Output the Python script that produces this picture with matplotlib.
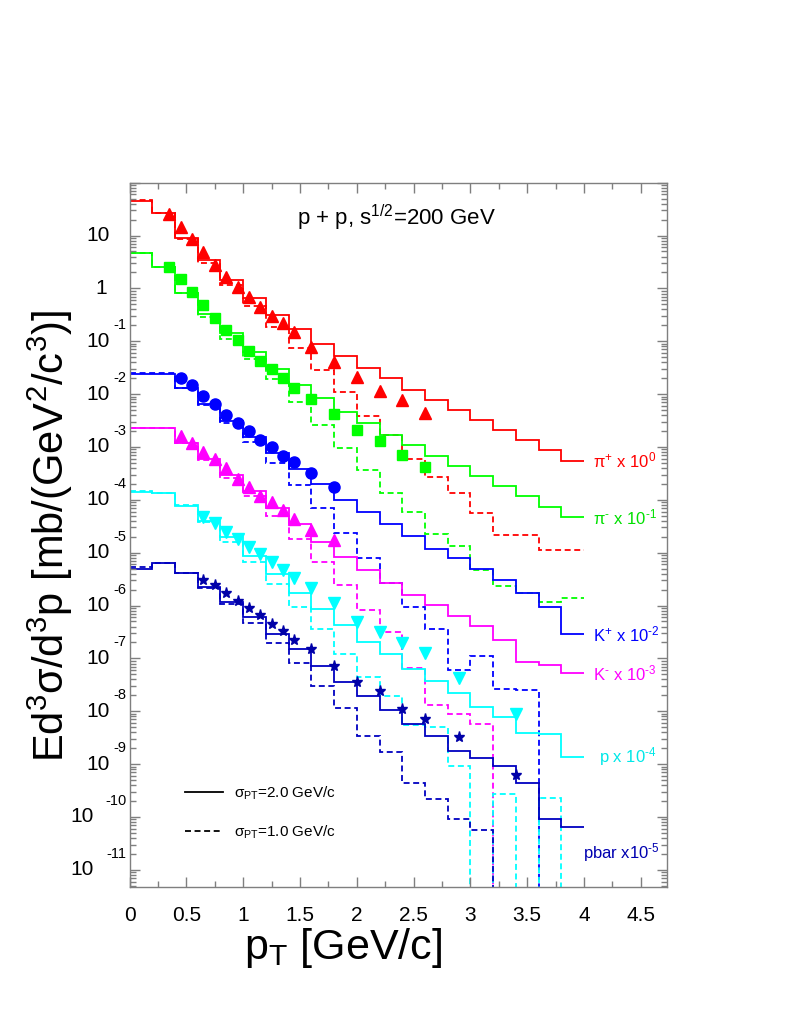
import matplotlib.pyplot as plt
import matplotlib.ticker as mticker
from matplotlib.lines import Line2D
import numpy as np

plt.rcParams['font.family'] = ['Liberation Sans', 'DejaVu Sans']
plt.rcParams['mathtext.fontset'] = 'custom'
plt.rcParams['mathtext.rm'] = 'Liberation Sans'
plt.rcParams['mathtext.it'] = 'Liberation Sans:italic'
plt.rcParams['mathtext.bf'] = 'Liberation Sans:bold'

# histogram bins in pT (GeV/c)
pt_edges = [0.0, 0.2, 0.4, 0.6, 0.8, 1.0, 1.2, 1.4, 1.6, 1.8, 2.0,
            2.2, 2.4, 2.6, 2.8, 3.0, 3.2, 3.4, 3.6, 3.8, 4.0]

# model, sigma_PT = 2.0 GeV/c (solid) and 1.0 GeV/c (dashed), already scaled
pip_s2 = [45.9, 26.5, 8.93, 3.47, 1.45, 0.671, 0.316, 0.169, 0.0893, 0.0536,
          0.0318, 0.0200, 0.0120, 0.00778, 0.00504, 0.00326, 0.00211, 0.00136, 8.81e-4, 5.53e-4]
pip_s1 = [47.3, 26.9, 8.67, 3.01, 1.17, 0.468, 0.190, 0.0740, 0.0288, 0.0109,
          0.00393, 0.00169, 5.87e-4, 2.75e-4, 1.34e-4, 5.58e-5, 2.17e-5, 2.17e-5, 1.13e-5, 1.13e-5]
pim_s2 = [4.65, 2.52, 0.834, 0.330, 0.142, 0.0638, 0.0301, 0.0150, 0.00838, 0.00468,
          0.00290, 0.00169, 0.00110, 6.87e-4, 4.39e-4, 2.84e-4, 1.84e-4, 1.19e-4, 7.45e-5, 4.70e-5]
pim_s1 = [4.71, 2.52, 0.813, 0.293, 0.110, 0.0458, 0.0192, 0.00723, 0.00262, 9.75e-4,
          3.69e-4, 1.37e-4, 6.0e-5, 2.27e-5, 1.36e-5, 4.73e-6, 2.36e-6, 1.76e-6, 1.19e-6, 1.38e-6]
kp_s2 = [0.0242, 0.0242, 0.0130, 0.00655, 0.00316, 0.00157, 7.83e-4, 3.80e-4, 1.98e-4, 9.98e-5,
         6.0e-5, 3.46e-5, 2.08e-5, 1.18e-5, 8.07e-6, 4.93e-6, 3.05e-6, 1.71e-6, 9.55e-7, 2.91e-7]
kp_s1 = [0.0256, 0.0256, 0.0130, 0.00627, 0.00290, 0.00126, 4.93e-4, 1.92e-4, 6.95e-5, 2.40e-5,
         8.07e-6, 2.65e-6, 9.55e-7, 3.57e-7, 6.05e-8, 1.13e-7, 2.65e-8, 2.54e-8, 0, 0]
km_s2 = [0.00227, 0.00227, 0.00121, 5.96e-4, 2.96e-4, 1.48e-4, 6.95e-5, 3.46e-5, 1.62e-5, 8.43e-6,
         4.73e-6, 2.72e-6, 1.59e-6, 1.03e-6, 6.37e-7, 4.16e-7, 2.24e-7, 8.47e-8, 7.53e-8, 5.25e-8]
km_s1 = [0.00227, 0.00227, 0.00118, 5.70e-4, 2.64e-4, 1.19e-4, 4.97e-5, 1.82e-5, 6.79e-6, 2.46e-6,
         8.28e-7, 3.13e-7, 6.70e-8, 1.32e-8, 8.91e-9, 5.77e-9, 0, 0, 0, 0]
p_s2 = [1.43e-4, 1.34e-4, 7.78e-5, 4.05e-5, 2.02e-5, 8.71e-6, 3.97e-6, 1.76e-6, 8.53e-7, 4.31e-7,
        2.03e-7, 1.20e-7, 6.25e-8, 3.75e-8, 2.20e-8, 1.22e-8, 7.71e-9, 3.94e-9, 3.72e-9, 1.35e-9]
p_s1 = [1.50e-4, 1.36e-4, 8.02e-5, 3.87e-5, 1.62e-5, 6.79e-6, 2.57e-6, 9.31e-7, 3.57e-7, 1.20e-7,
        4.41e-8, 1.95e-8, 5.52e-9, 5.13e-9, 9.06e-10, 0, 2.73e-10, 0, 2.32e-10, 0]
pbar_s2 = [4.93e-6, 6.32e-6, 4.09e-6, 2.22e-6, 1.19e-6, 6.01e-7, 2.91e-7, 1.49e-7, 7.21e-8, 3.64e-8,
           1.95e-8, 1.06e-8, 5.77e-9, 3.46e-9, 1.78e-9, 1.29e-9, 9.25e-10, 4.47e-10, 9.18e-11, 6.56e-11]
pbar_s1 = [5.46e-6, 6.32e-6, 4.09e-6, 2.13e-6, 1.07e-6, 4.75e-7, 1.99e-7, 8.11e-8, 3.02e-8, 1.14e-8,
           3.42e-9, 1.73e-9, 4.47e-10, 2.20e-10, 9.06e-11, 5.69e-11, 0, 0, 0, 0]

# measured points (scaled)
pi_pt = [0.35, 0.45, 0.55, 0.65, 0.75, 0.85, 0.95, 1.05, 1.15, 1.25, 1.35, 1.45,
         1.6, 1.8, 2.0, 2.2, 2.4, 2.6]
pip_data = [25.4, 14.4, 8.67, 4.85, 2.79, 1.67, 1.08, 0.701, 0.454, 0.306, 0.220, 0.149,
            0.0794, 0.0403, 0.0209, 0.0115, 0.00778, 0.00437]
pim_data = [2.59, 1.52, 0.849, 0.489, 0.274, 0.164, 0.106, 0.0658, 0.0432, 0.0296, 0.0200, 0.0130,
            0.00802, 0.00423, 0.00211, 0.00132, 7.1e-4, 4.26e-4]
k_pt = [0.45, 0.55, 0.65, 0.75, 0.85, 0.95, 1.05, 1.15, 1.25, 1.35, 1.45, 1.6, 1.8]
kp_data = [0.0200, 0.0147, 0.00935, 0.00637, 0.00405, 0.00290, 0.00202, 0.00136, 0.00102,
           6.79e-4, 5.30e-4, 3.28e-4, 1.78e-4]
km_data = [0.00162, 0.00121, 8.18e-4, 5.87e-4, 3.97e-4, 2.49e-4, 1.78e-4, 1.19e-4, 9.27e-5,
           6.46e-5, 4.31e-5, 2.70e-5, 1.71e-5]
p_pt = [0.65, 0.75, 0.85, 0.95, 1.05, 1.15, 1.25, 1.35, 1.45, 1.6, 1.8, 2.0, 2.2, 2.4, 2.6, 2.9, 3.4]
p_data = [4.82e-5, 3.61e-5, 2.51e-5, 1.80e-5, 1.30e-5, 9.48e-6, 6.79e-6, 4.73e-6, 3.30e-6,
          2.13e-6, 1.14e-6, 4.97e-7, 3.13e-7, 1.94e-7, 1.25e-7, 4.22e-8, 8.79e-9]
pbar_data = [3.05e-6, 2.46e-6, 1.76e-6, 1.24e-6, 8.91e-7, 6.65e-7, 4.50e-7, 3.36e-7, 2.24e-7,
             1.49e-7, 7.21e-8, 3.64e-8, 2.46e-8, 1.09e-8, 7.08e-9, 3.31e-9, 6.25e-10]

species_labels = ['π$^{+}$ x 10$^{0}$', 'π$^{\\mathrm{‐}}$ x 10$^{\\mathrm{‐1}}$',
                  'K$^{+}$ x 10$^{\\mathrm{‐2}}$', 'K$^{\\mathrm{‐}}$ x 10$^{\\mathrm{‐3}}$',
                  'p x 10$^{\\mathrm{‐4}}$', 'pbar x10$^{\\mathrm{‐5}}$']
label_pos = [(4.08, 5.46e-4), (4.08, 4.55e-5), (4.08, 2.9e-7),
             (4.08, 5.09e-8), (4.13, 1.37e-9), (3.99, 2.09e-11)]

colors = ['#ff0000', '#00ff00', '#0000ff', '#ff00ff', '#00ffff', '#0000c0']
text_colors = ['#ff0000', '#00e000', '#0000ff', '#ff00ff', '#00e8e8', '#0000b0']

fig = plt.figure(figsize=(8, 10.35), dpi=100)
ax = fig.add_axes([0.162, 0.1433, 0.6714, 0.6802])
ax.set_yscale('log')

solid = [pip_s2, pim_s2, kp_s2, km_s2, p_s2, pbar_s2]
dashed = [pip_s1, pim_s1, kp_s1, km_s1, p_s1, pbar_s1]
dash = (0, (3.3, 2.0))
for vals2, vals1, c in zip(solid, dashed, colors):
    ax.stairs(vals1, pt_edges, baseline=None, color=c, lw=1.3, ls=dash)
    ax.stairs(vals2, pt_edges, baseline=None, color=c, lw=1.3)

ax.plot(pi_pt, pip_data, ls='none', marker='^', ms=8, color=colors[0])
ax.plot(pi_pt, pim_data, ls='none', marker='s', ms=7.5, color=colors[1])
ax.plot(k_pt, kp_data, ls='none', marker='o', ms=8, color=colors[2])
ax.plot(k_pt, km_data, ls='none', marker='^', ms=8, color=colors[3])
ax.plot(p_pt, p_data, ls='none', marker='v', ms=8, color=colors[4])
ax.plot(p_pt, pbar_data, ls='none', marker='*', ms=8, color='#0000a8')

for lab, (lx, ly), tc in zip(species_labels, label_pos, text_colors):
    ax.text(lx, ly, lab, color=tc, fontsize=12, ha='left', va='center')

ax.set_xlim(0, 4.728)
ax.set_ylim(4.8e-12, 100)

# ROOT-like frame and ticks
for s in ax.spines.values():
    s.set_color('#7f7f7f')
    s.set_linewidth(1.0)
ax.xaxis.set_major_locator(mticker.MultipleLocator(0.5))
ax.xaxis.set_minor_locator(mticker.MultipleLocator(0.25))
ax.xaxis.set_major_formatter(mticker.FormatStrFormatter('%g'))
ax.yaxis.set_major_locator(mticker.LogLocator(base=10, numticks=30))
ax.yaxis.set_minor_locator(mticker.LogLocator(base=10, subs=np.arange(2, 10), numticks=30))
ax.yaxis.set_major_formatter(mticker.NullFormatter())
ax.yaxis.set_minor_formatter(mticker.NullFormatter())
ax.tick_params(which='both', direction='in', top=True, right=True, color='#7f7f7f')
ax.tick_params(which='major', length=7, width=1.0)
ax.tick_params(which='minor', length=4, width=1.0)
ax.tick_params(axis='x', which='major', labelsize=15, pad=14)

# y tick labels drawn ROOT style: "10" with exponent raised above right
for n in range(1, -12, -1):
    yv = 10.0 ** n
    if n == 1:
        ax.annotate('10', xy=(0, yv), xycoords=('axes fraction', 'data'), xytext=(-14, 0),
                    textcoords='offset points', ha='right', va='center', fontsize=15)
    elif n == 0:
        ax.annotate('1', xy=(0, yv), xycoords=('axes fraction', 'data'), xytext=(-16, 0),
                    textcoords='offset points', ha='right', va='center', fontsize=15)
    else:
        base_dx = -14 if n > -10 else -25.5
        ax.annotate('10', xy=(0, yv), xycoords=('axes fraction', 'data'), xytext=(base_dx, 0),
                    textcoords='offset points', ha='right', va='center', fontsize=15)
        ax.annotate(str(n), xy=(0, yv), xycoords=('axes fraction', 'data'), xytext=(-2.5, 11.5),
                    textcoords='offset points', ha='right', va='center', fontsize=10.5)

ax.text(0.312, 0.950, 'p + p, s$^{1/2}$=200 GeV', transform=ax.transAxes,
        fontsize=16, ha='left', va='center')

handles = [Line2D([], [], color='black', lw=1.3),
           Line2D([], [], color='black', lw=1.3, ls=dash)]
ax.legend(handles, ['σ$_\\mathrm{PT}$=2.0 GeV/c', 'σ$_\\mathrm{PT}$=1.0 GeV/c'],
          loc='center left', bbox_to_anchor=(0.103, 0.105), frameon=False, fontsize=11,
          handlelength=2.5, handletextpad=0.7, labelspacing=1.4, borderpad=0, borderaxespad=0)

fig.text(343 / 800, 1 - 948 / 1035, 'p$_\\mathrm{T}$ [GeV/c]', fontsize=31,
         ha='center', va='center')
fig.text(50 / 800, 1 - 536 / 1035, 'Ed$^{3}$σ/d$^{3}$p [mb/(GeV$^{2}$/c$^{3}$)]',
         fontsize=30, rotation=90, ha='center', va='center')

fig.savefig('out.png', dpi=100)
